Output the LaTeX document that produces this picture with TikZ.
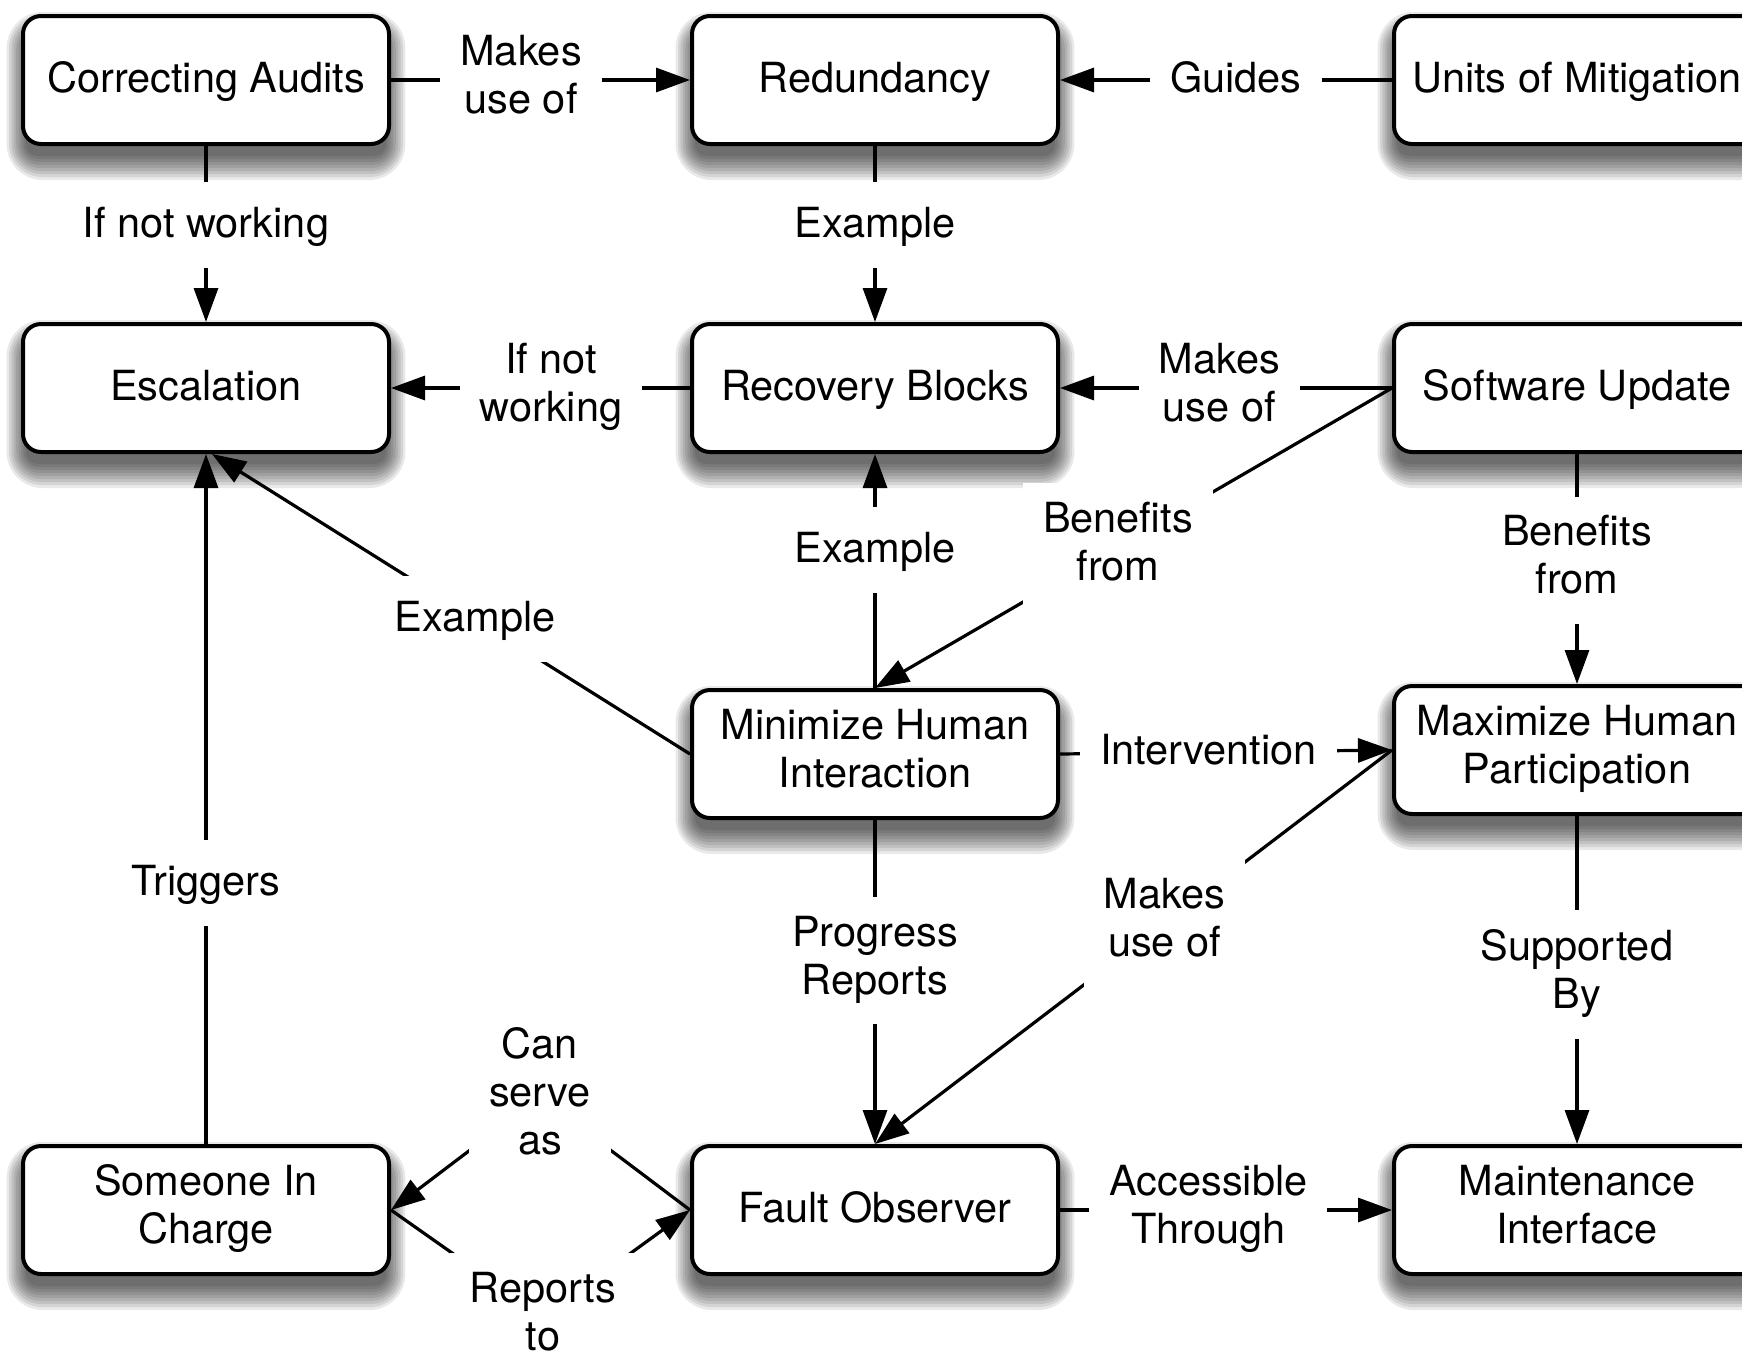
\documentclass[tikz,border=0pt]{standalone}
\usepackage{fontspec}
\setmainfont{TeX Gyre Heros}
\usetikzlibrary{arrows.meta,calc}
\pgfdeclarelayer{bg}
\pgfsetlayers{bg,main}
\newcommand\mapfont{\fontsize{41.5}{48}\selectfont}
\newcommand\mapstrut{\rule[-11.4pt]{0pt}{48pt}}
\tikzset{
  box/.style={draw=black, line width=4pt, fill=white, rounded corners=18pt,
    minimum width=366pt, minimum height=128pt, align=center, inner sep=0pt,
    font=\mapfont, execute at begin node=\mapstrut, execute at end node=\mapstrut},
  lbl/.style={fill=white, inner xsep=20pt, inner ysep=19pt, align=center,
    font=\mapfont, execute at begin node=\mapstrut, execute at end node=\mapstrut},
  conn/.style={line width=3.2pt, -{Triangle[length=34pt,width=24pt]}},
}
\begin{document}
\begin{tikzpicture}[x=1pt,y=-1pt]
\useasboundingbox (0,0) rectangle (1742,1353);
\begin{scope}
\clip (0,0) rectangle (1742,1353);
% concepts
\node[box] (ca)  at (206,80)   {Correcting Audits};
\node[box] (red) at (875,80)   {Redundancy};
\node[box] (uom) at (1577,80)  {Units of Mitigation};
\node[box] (esc) at (206,388)  {Escalation};
\node[box] (rb)  at (875,388)  {Recovery Blocks};
\node[box] (su)  at (1577,388) {Software Update};
\node[box] (mhi) at (875,754)  {Minimize Human\\Interaction};
\node[box] (mhp) at (1577,750) {Maximize Human\\Participation};
\node[box] (sic) at (206,1210) {Someone In\\Charge};
\node[box] (fo)  at (875,1210) {Fault Observer};
\node[box] (mi)  at (1577,1210) {Maintenance\\Interface};
% shadows
\begin{pgfonlayer}{bg}
\fill[white] (0,0) rectangle (1742,1353);
\foreach \n in {ca,red,uom,esc,rb,su,mhi,mhp,sic,fo,mi}{
  \foreach \e in {-6,-3,...,18}{
    \pgfmathsetmacro\rr{max(18+\e,2)}
    \pgfmathsetmacro\ex{0.8*\e}
    \fill[black,opacity=0.085,rounded corners=\rr pt]
      ($(\n.south west)+(-\ex,16+\e)$) rectangle ($(\n.north east)+(\ex,16-\e)$);
  }
}
\end{pgfonlayer}
% connectors
\draw[conn] (ca) -- node[lbl,pos=0.435]{Makes\\use of} (red);
\draw[conn] (uom) -- node[lbl,pos=0.47]{Guides} (red);
\draw[conn] (ca) -- node[lbl,pos=0.45]{If not working} (esc);
\draw[conn] (red) -- node[lbl,pos=0.446]{Example} (rb);
\draw[conn] (rb) -- node[lbl,pos=0.465]{If not\\working} (esc);
\draw[conn] (su) -- node[lbl,pos=0.52]{Makes\\use of} (rb);
\draw[conn] (su.west) -- node[lbl,pos=0.53]{Benefits\\from} (mhi.north);
\draw[conn] (mhi) -- node[lbl,pos=0.59]{Example} (rb);
\draw[conn] (mhi.west) -- node[lbl,pos=0.45]{Example} ([xshift=6pt]esc.south);
\draw[conn] (mhi.east) -- node[lbl,pos=0.447]{Intervention} (mhp.west);
\draw[conn] (mhp.west) -- node[lbl,pos=0.44]{Makes\\use of} (fo.north);
\draw[conn] (mhi) -- node[lbl,pos=0.434]{Progress\\Reports} (fo);
\draw[conn] (su) -- node[lbl,pos=0.463]{Benefits\\from} (mhp);
\draw[conn] (mhp) -- node[lbl,pos=0.483]{Supported\\By} (mi);
\draw[conn] (fo) -- node[lbl,pos=0.447]{Accessible\\Through} (mi);
\draw[conn] (sic) -- node[lbl,pos=0.378]{Triggers} (esc);
\coordinate (b1) at (540,1097);
\coordinate (b2) at (543,1317);
\draw[conn] (fo.west) -- (b1) -- (sic.east);
\node[lbl] (l17) at (b1) {Can\\serve\\as};
\draw[conn] (sic.east) -- (b2) -- (fo.west);
\node[lbl] (l18) at (b2) {Reports\\to};
\end{scope}
\end{tikzpicture}
\end{document}
